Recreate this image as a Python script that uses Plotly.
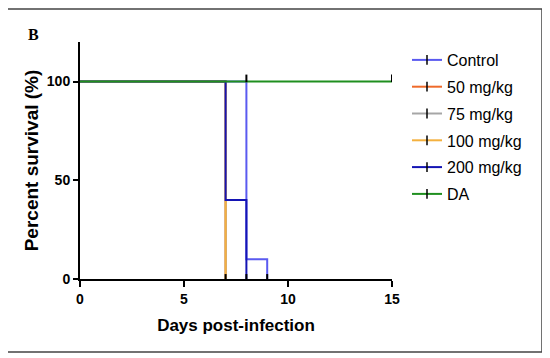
import plotly.graph_objects as go

# ---- data ----
series_names = ["Control", "50 mg/kg", "75 mg/kg", "100 mg/kg", "200 mg/kg", "DA"]
days_control = [0, 8, 9]
surv_control = [100, 10, 0]
days_50 = [0, 7]
surv_50 = [100, 0]
days_75 = [0, 7]
surv_75 = [100, 0]
days_100 = [0, 7]
surv_100 = [100, 0]
days_200 = [0, 7, 8]
surv_200 = [100, 40, 0]
days_da = [0, 15]
surv_da = [100, 100]
censor_days = [8, 15, 7, 8, 9]
censor_surv = [100, 100, 0, 0, 0]
x_ticks = [0, 5, 10, 15]
y_ticks = [0, 50, 100]

colors = ["#5a5af0", "#ef6a2a", "#a6a6a6", "#f4b13f", "#1414b4", "#1f8f1f"]
xs = [days_control, days_50, days_75, days_100, days_200, days_da]
ys = [surv_control, surv_50, surv_75, surv_100, surv_200, surv_da]

# page has an 8px body margin, so figure is drawn at (8,8)
OFF = 8
W, H = 550 - OFF, 358 - OFF
L, T = 80 - OFF, 42 - OFF
PW, PH = 312, 237

def px_x(px):
    return (px - OFF - L) / PW

def px_y(py):
    return (T + PH - (py - OFF)) / PH

fig = go.Figure()
for name, x, y, c in zip(series_names, xs, ys, colors):
    fig.add_trace(go.Scatter(x=x, y=y, mode="lines", line=dict(color=c, width=2, shape="hv"),
                             showlegend=False, cliponaxis=False, hoverinfo="skip"))

# censored tick marks
fig.add_trace(go.Scatter(
    x=censor_days, y=censor_surv, mode="markers",
    marker=dict(size=1, color="rgba(0,0,0,0)"),
    error_y=dict(type="data", symmetric=False,
                 array=[3.5 if v > 0 else 2.5 for v in censor_surv],
                 arrayminus=[0.3 if v > 0 else 0 for v in censor_surv],
                 width=0, thickness=2, color="black"),
    showlegend=False, cliponaxis=False, hoverinfo="skip"))

# legend entries
for i, (name, c) in enumerate(zip(series_names, colors)):
    fig.add_trace(go.Scatter(x=[None], y=[None], mode="lines+markers", name=name,
                             legendgroup=f"g{i}",
                             line=dict(color=c, width=2),
                             marker=dict(symbol="line-ns", size=7, color="black",
                                         line=dict(color="black", width=1.5))))

fig.update_layout(
    width=W, height=H,
    margin=dict(l=L, r=W - L - PW, t=T, b=H - T - PH),
    paper_bgcolor="white", plot_bgcolor="white",
    font=dict(family="Liberation Sans, Arial, sans-serif", color="black"),
    showlegend=True,
    legend=dict(x=px_x(407), y=px_y(43), xanchor="left", yanchor="top",
                font=dict(size=16, family="Liberation Sans, Arial, sans-serif", color="black"),
                traceorder="grouped", tracegroupgap=3, bgcolor="rgba(0,0,0,0)"),
    xaxis=dict(range=[0, 15], tickvals=x_ticks, showgrid=False, zeroline=False,
               showline=True, linecolor="black", linewidth=2,
               ticks="outside", ticklen=6, tickwidth=2, tickcolor="black",
               tickfont=dict(size=14, family="Liberation Sans, Arial, sans-serif", color="black", weight="bold"),
               title=dict(text="<b>Days post-infection</b>", font=dict(size=17), standoff=13)),
    yaxis=dict(range=[0, 120], tickvals=y_ticks, showgrid=False, zeroline=False,
               showline=True, linecolor="black", linewidth=2,
               ticks="outside", ticklen=5, tickwidth=2, tickcolor="black",
               tickfont=dict(size=14, family="Liberation Sans, Arial, sans-serif", color="black", weight="bold"),
               title=dict(text="<b>Percent survival (%)</b>", font=dict(size=19), standoff=3)),
)

# outer frame
fig.add_shape(type="rect", xref="paper", yref="paper",
              x0=px_x(7), x1=px_x(542), y0=px_y(352), y1=px_y(9),
              line=dict(color="#444444", width=1.5), fillcolor="rgba(0,0,0,0)", layer="above")

fig.add_annotation(text="<b>B</b>", xref="paper", yref="paper",
                   x=px_x(26), y=px_y(24), showarrow=False,
                   font=dict(family="Liberation Serif, Times New Roman, serif", size=16, color="black"))

fig.write_html("out.html")
